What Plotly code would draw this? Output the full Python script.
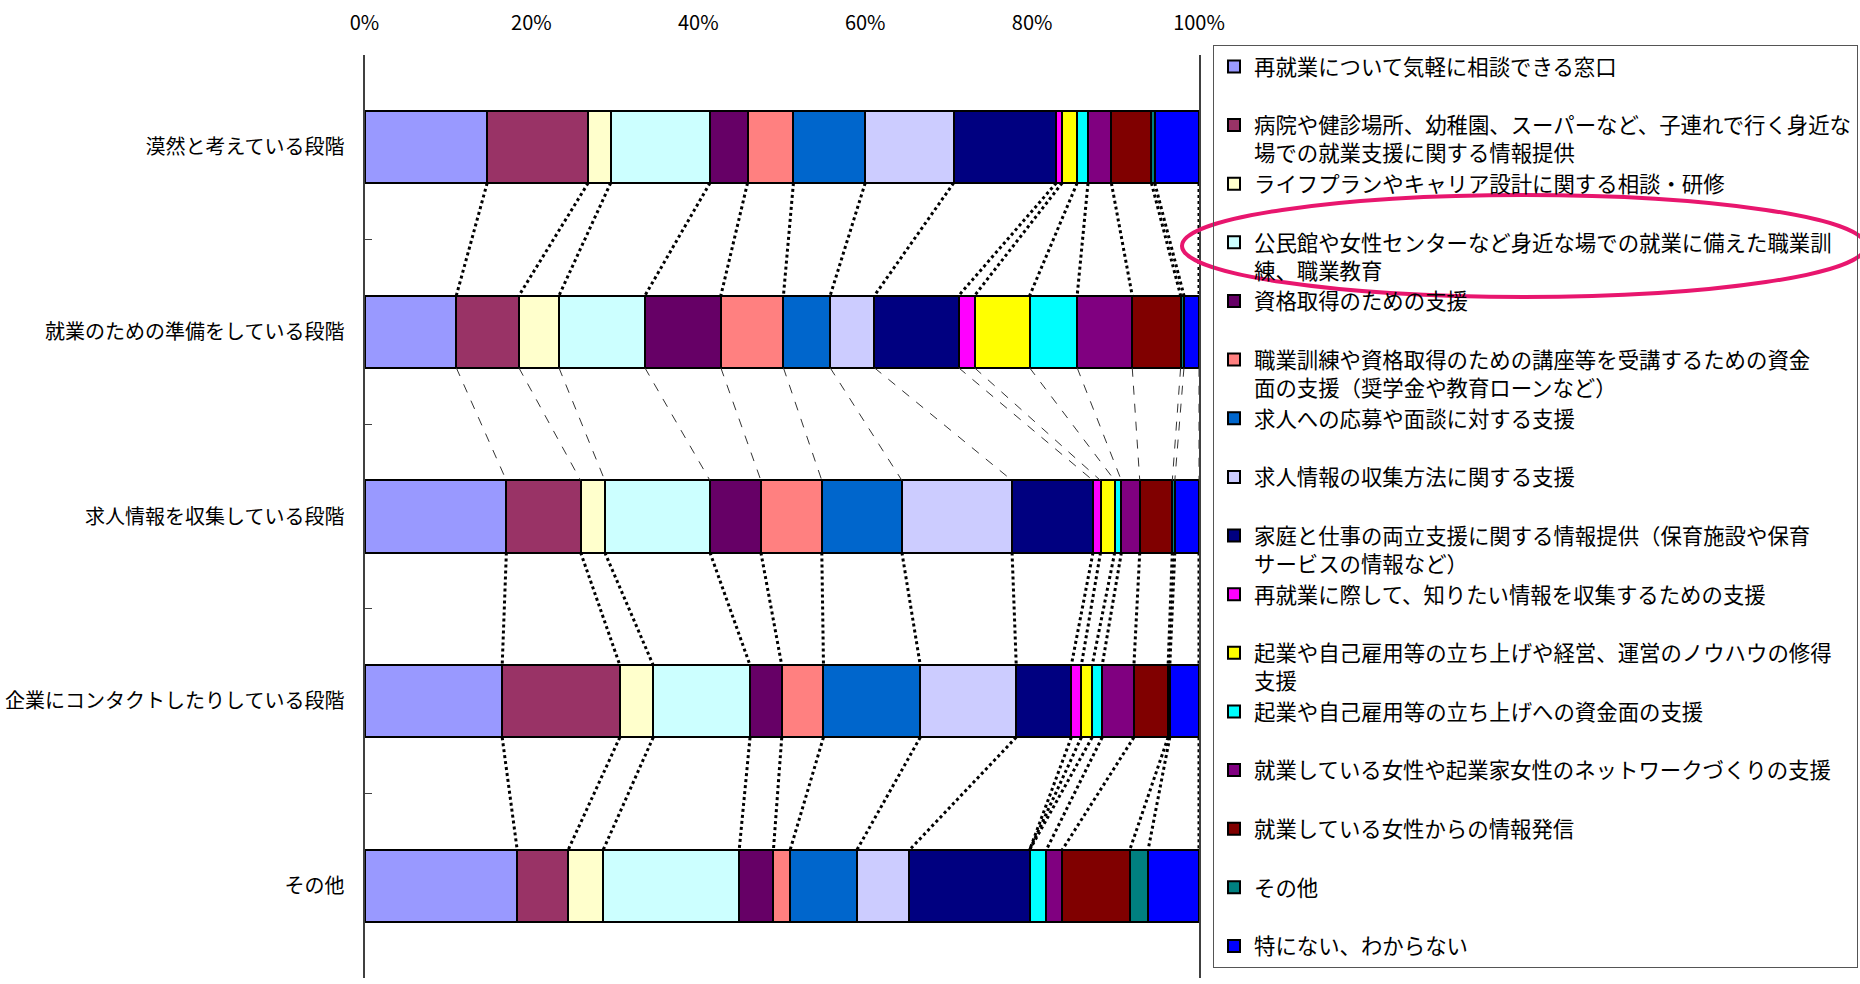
import numpy as np
import plotly.graph_objects as go

# ---------------- data ----------------
stages = [
    "漠然と考えている段階",
    "就業のための準備をしている段階",
    "求人情報を収集している段階",
    "企業にコンタクトしたりしている段階",
    "その他",
]

series_names = [
    "再就業について気軽に相談できる窓口",
    "病院や健診場所、幼稚園、スーパーなど、子連れで行く身近な<br>場での就業支援に関する情報提供",
    "ライフプランやキャリア設計に関する相談・研修",
    "公民館や女性センターなど身近な場での就業に備えた職業訓<br>練、職業教育",
    "資格取得のための支援",
    "職業訓練や資格取得のための講座等を受講するための資金<br>面の支援（奨学金や教育ローンなど）",
    "求人への応募や面談に対する支援",
    "求人情報の収集方法に関する支援",
    "家庭と仕事の両立支援に関する情報提供（保育施設や保育<br>サービスの情報など）",
    "再就業に際して、知りたい情報を収集するための支援",
    "起業や自己雇用等の立ち上げや経営、運営のノウハウの修得<br>支援",
    "起業や自己雇用等の立ち上げへの資金面の支援",
    "就業している女性や起業家女性のネットワークづくりの支援",
    "就業している女性からの情報発信",
    "その他",
    "特にない、わからない",
]

# percentage shares per stage (same order as series_names)
vals_stage1 = [14.7, 12.1, 2.7, 11.9, 4.5, 5.5, 8.6, 10.6, 12.3, 0.7, 1.8, 1.3, 2.8, 4.8, 0.4, 5.3]
vals_stage2 = [11.0, 7.5, 4.8, 10.3, 9.1, 7.5, 5.6, 5.3, 10.1, 1.9, 6.6, 5.7, 6.6, 5.8, 0.4, 1.8]
vals_stage3 = [17.0, 8.9, 2.9, 12.6, 6.1, 7.3, 9.6, 13.2, 9.7, 0.9, 1.7, 0.8, 2.2, 3.9, 0.3, 2.9]
vals_stage4 = [16.5, 14.1, 4.0, 11.6, 3.8, 5.0, 11.6, 11.5, 6.6, 1.2, 1.3, 1.2, 3.8, 4.1, 0.2, 3.5]
vals_stage5 = [18.3, 6.1, 4.2, 16.3, 4.1, 2.0, 8.0, 6.3, 14.4, 0.0, 0.0, 2.0, 1.9, 8.1, 2.2, 6.1]

x_tick_vals = [0, 20, 40, 60, 80, 100]
x_tick_text = ["0%", "20%", "40%", "60%", "80%", "100%"]

# ---------------- style ----------------
colors = [
    "#9999FF", "#993366", "#FFFFCC", "#CCFFFF", "#660066", "#FF8080",
    "#0066CC", "#CCCCFF", "#000080", "#FF00FF", "#FFFF00", "#00FFFF",
    "#800080", "#800000", "#008080", "#0000FF",
]
FONT = "Noto Sans CJK JP, Noto Sans, sans-serif"
W, H = 1860, 984
BAR_W = 0.39

rows = [vals_stage1, vals_stage2, vals_stage3, vals_stage4, vals_stage5]
ypos = list(range(len(stages)))

fig = go.Figure()

# stacked bars, one trace per series
n_series = len(series_names)
for k, name in enumerate(series_names):
    # every legend entry occupies a two-line slot, like the original legend
    if "<br>" in name or k == n_series - 1:
        label = name
    else:
        label = name + "<br> "
    fig.add_trace(go.Bar(
        orientation="h",
        y=ypos,
        x=[r[k] for r in rows],
        width=BAR_W,
        name=label,
        marker=dict(color=colors[k], line=dict(color="#000000", width=2)),
        hoverinfo="x+name",
    ))

# series lines between adjacent bars
cums = [np.cumsum(r) for r in rows]
for i in range(len(rows) - 1):
    xs, ys = [], []
    for k in range(n_series):
        xs += [cums[i][k], cums[i + 1][k], None]
        ys += [ypos[i] + BAR_W / 2, ypos[i + 1] - BAR_W / 2, None]
    if i == 1:
        line = dict(color="#333333", width=1, dash="dash")
    else:
        line = dict(color="#000000", width=3, dash="dot")
    fig.add_trace(go.Scatter(
        x=xs, y=ys, mode="lines", line=line,
        showlegend=False, hoverinfo="skip",
    ))

fig.update_layout(
    width=W, height=H,
    margin=dict(l=0, r=0, t=0, b=0),
    paper_bgcolor="white",
    plot_bgcolor="white",
    barmode="stack",
    font=dict(family=FONT, size=20, color="#000000"),
    xaxis=dict(
        domain=[364.5 / W, 1199 / W],
        side="top",
        range=[0, 100],
        tickvals=x_tick_vals,
        ticktext=x_tick_text,
        showgrid=False, zeroline=False, showline=False,
        ticks="",
        automargin=False,
        ticklabelstandoff=20,
        tickfont=dict(family=FONT, size=20, color="#000000"),
    ),
    yaxis=dict(
        domain=[1 - 978.4 / H, 1 - 54.6 / H],
        range=[4.5, -0.5],
        tickvals=ypos,
        ticktext=stages,
        ticks="",
        showgrid=False, zeroline=False,
        showline=True, mirror=True, linecolor="#404040", linewidth=2,
        automargin=False,
        ticklabelstandoff=14,
        tickfont=dict(family=FONT, size=20, color="#000000"),
        minor=dict(tickvals=[0.5, 1.5, 2.5, 3.5], ticks="inside",
                   ticklen=7, tickcolor="#404040", tickwidth=1, showgrid=False),
    ),
    legend=dict(
        x=1213 / W, xanchor="left",
        y=1 - 45 / H, yanchor="top",
        traceorder="normal",
        valign="top",
        bgcolor="rgba(0,0,0,0)",
        bordercolor="#555555", borderwidth=1,
        font=dict(family=FONT, size=21.4, color="#000000"),
        itemwidth=30,
        entrywidth=590, entrywidthmode="pixels",
    ),
    shapes=[
        dict(type="circle", xref="paper", yref="paper",
             x0=1182 / W, x1=1866 / W, y0=1 - 297 / H, y1=1 - 195 / H,
             line=dict(color="#E8166E", width=4), fillcolor="rgba(0,0,0,0)",
             layer="above"),
    ],
    showlegend=True,
)

fig.write_html("out.html")
